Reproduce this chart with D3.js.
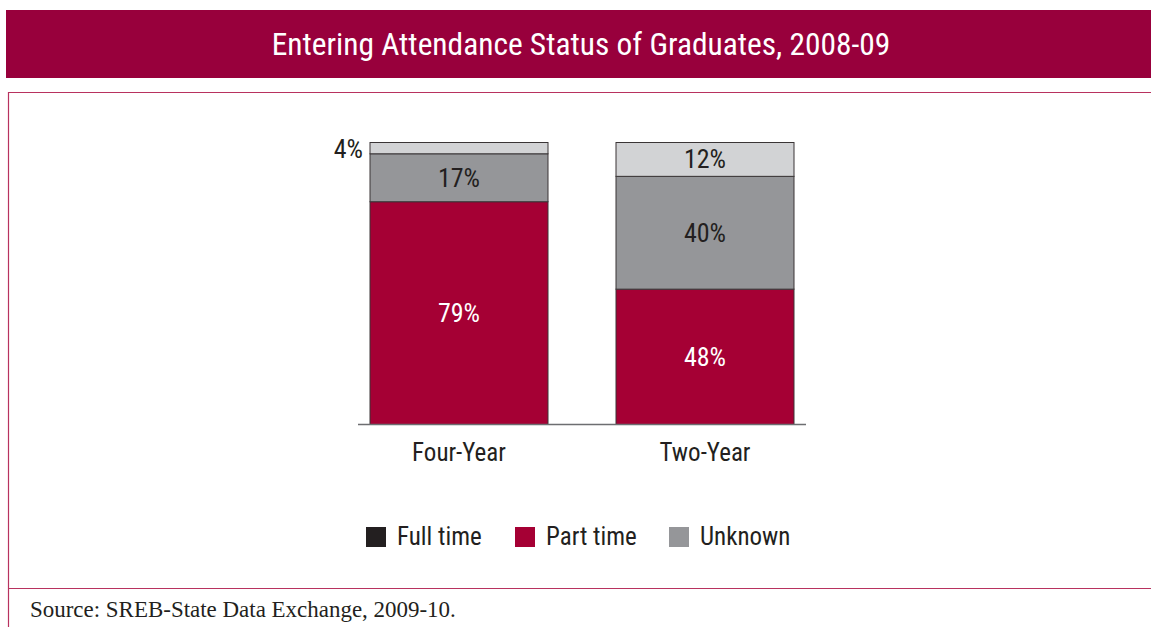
<!DOCTYPE html>
<html><head><meta charset="utf-8">
<script src="https://cdn.jsdelivr.net/npm/d3@7"></script>
<style>
html,body{margin:0;padding:0;background:#fff;}
svg{display:block;}
</style></head>
<body>
<svg id="chart" width="1151" height="627"></svg>
<script>
const title = "Entering Attendance Status of Graduates, 2008-09";
const source = "Source: SREB-State Data Exchange, 2009-10.";
const categories = ["Four-Year", "Two-Year"];
const partTime = [79, 48];
const unknown = [17, 40];
const fullTime = [4, 12];
const legendLabels = ["Full time", "Part time", "Unknown"];

const svg = d3.select("#chart");
const W = 1151, H = 627;
const COND = '"Liberation Sans Narrow","Roboto Condensed","Arial Narrow",sans-serif';
const crimsonDark = "#98003c", crimson = "#a50034", gray = "#959699", light = "#d2d3d5", ink = "#231f20";

// title bar
svg.append("rect").attr("x", 6).attr("y", 10).attr("width", W - 6).attr("height", 68).attr("fill", crimsonDark);
const t = svg.append("text").style("font-family", COND).attr("x", 581).attr("y", 55)
  .attr("text-anchor", "middle").attr("fill", "#fff").attr("font-size", 30).text(title);
fitWidth(t, 619, 30);

// frame
svg.append("line").attr("x1", 8).attr("x2", W).attr("y1", 92.5).attr("y2", 92.5).attr("stroke", "#b8325f").attr("stroke-width", 1.2);
svg.append("line").attr("x1", 8).attr("x2", W).attr("y1", 588.5).attr("y2", 588.5).attr("stroke", "#b8325f").attr("stroke-width", 1.2);
svg.append("line").attr("x1", 8.5).attr("x2", 8.5).attr("y1", 92).attr("y2", H).attr("stroke", "#b8325f").attr("stroke-width", 1.2);

// scales
const x = d3.scaleBand().domain(categories).range([320.8, 843.2]).paddingInner(68 / 246).paddingOuter(0.2);
const y = d3.scaleLinear().domain([0, 100]).range([424.5, 142.5]);

const stackData = categories.map((c, i) => ({cat: c, part: partTime[i], unk: unknown[i], full: fullTime[i]}));
const stack = d3.stack().keys(["part", "unk", "full"])(stackData);
const fills = {part: crimson, unk: gray, full: light};
const textFill = {part: "#fff", unk: ink, full: ink};

const g = svg.append("g");
stack.forEach(layer => {
  g.selectAll(null).data(layer).enter().append("rect")
    .attr("x", d => x(d.data.cat))
    .attr("width", x.bandwidth())
    .attr("y", d => y(d[1]))
    .attr("height", d => y(d[0]) - y(d[1]))
    .attr("fill", fills[layer.key])
    .attr("stroke", "#3a3536").attr("stroke-width", 1);
});
// labels
stack.forEach(layer => {
  g.selectAll(null).data(layer).enter().append("text")
    .style("font-family", COND)
    .attr("font-size", 26)
    .attr("fill", d => (d[1] - d[0]) < 6 ? ink : textFill[layer.key])
    .attr("text-anchor", d => (d[1] - d[0]) < 6 ? "end" : "middle")
    .attr("x", d => (d[1] - d[0]) < 6 ? x(d.data.cat) - 7 : x(d.data.cat) + x.bandwidth() / 2)
    .attr("y", d => (d[1] - d[0]) < 6 ? y(d[1]) + 15 : (y(d[0]) + y(d[1])) / 2 + 9)
    .text(d => (d[1] - d[0]) + "%");
});

// baseline
svg.append("line").attr("x1", 358).attr("x2", 806).attr("y1", y(0)).attr("y2", y(0)).attr("stroke", "#6d6e71").attr("stroke-width", 1.5);

// category axis
const xAxis = svg.append("g").attr("transform", `translate(0,${y(0)})`).call(d3.axisBottom(x).tickSize(0).tickPadding(18));
xAxis.select(".domain").remove();
xAxis.selectAll("text").style("font-family", COND).attr("font-size", 25).attr("fill", ink).attr("dy", "0.72em");

// legend
const legendColors = ["#231f20", crimson, gray];
const legendX = [366, 515, 669];
const lg = svg.append("g");
legendLabels.forEach((l, i) => {
  lg.append("rect").attr("x", legendX[i]).attr("y", 527).attr("width", 20).attr("height", 20).attr("fill", legendColors[i]);
  lg.append("text").style("font-family", COND).attr("x", legendX[i] + 31).attr("y", 545).attr("font-size", 25).attr("fill", ink).text(l);
});

// source
const s = svg.append("text").attr("x", 30).attr("y", 617).style("font-family", '"Liberation Serif","DejaVu Serif",serif')
  .attr("font-size", 20).attr("fill", ink).text(source);
fitWidth(s, 426, 20);

function fitWidth(sel, target, base) {
  const w = sel.node().getComputedTextLength();
  if (w > 0) sel.attr("font-size", base * target / w);
}
</script>
</body></html>
